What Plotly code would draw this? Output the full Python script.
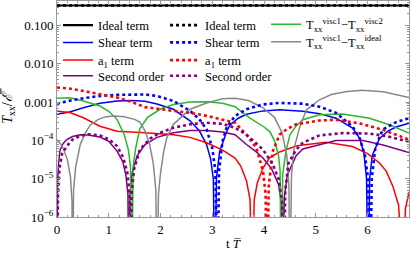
import plotly.graph_objects as go

# ---------------- data ----------------
t_ideal = [0.0, 6.8]
v_ideal = [0.333, 0.333]

t_shear = [0, 0.26, 0.51, 0.83, 1.16, 1.45, 1.70, 1.93, 2.25, 2.57, 2.75, 2.89, 2.97, 3.02, 3.05,
           3.08, 3.14, 3.28, 3.34, 3.5, 3.66, 3.98, 4.30, 4.75, 5.07, 5.39, 5.71, 5.85, 5.93, 5.98,
           6.01, 6.04, 6.09, 6.23, 6.4, 6.55, 6.8]
v_shear = [4.8e-4, 5.6e-4, 7.1e-4, 9.3e-4, 1.07e-3, 1.1e-3, 1.05e-3, 8.9e-4, 6.5e-4, 3.24e-4, 1.78e-4,
           7.8e-5, 3.16e-5, 1.0e-5, 1e-8, 1.0e-5, 5.0e-5, 1.74e-4, 2.5e-4, 3.8e-4, 4.8e-4, 5.9e-4,
           6.3e-4, 5.75e-4, 5.0e-4, 3.8e-4, 2.1e-4, 1.12e-4, 4.5e-5, 1.0e-5, 1e-8, 1.0e-5, 4.0e-5,
           1.12e-4, 1.78e-4, 2.24e-4, 2.8e-4]

t_shear_d = [0, 0.26, 0.51, 0.83, 1.16, 1.45, 1.70, 1.93, 2.25, 2.57, 2.75, 2.89, 3.0, 3.06, 3.10,
             3.13, 3.2, 3.28, 3.44, 3.66, 3.98, 4.30, 4.62, 4.75, 5.07, 5.39, 5.71, 5.85, 5.95, 6.01,
             6.05, 6.08, 6.15, 6.29, 6.55, 6.8]
v_shear_d = [9.1e-4, 1.1e-3, 1.26e-3, 1.45e-3, 1.55e-3, 1.58e-3, 1.58e-3, 1.45e-3, 1.07e-3, 5.9e-4,
             3.55e-4, 1.95e-4, 6.3e-5, 1.58e-5, 1e-8, 1.58e-5, 1.0e-4, 2.24e-4, 4.37e-4, 6.5e-4,
             8.7e-4, 9.5e-4, 9.5e-4, 9.1e-4, 7.6e-4, 5.25e-4, 2.3e-4, 1.12e-4, 4.0e-5, 1.0e-5, 1e-8,
             1.0e-5, 6.3e-5, 1.9e-4, 3.0e-4, 3.8e-4]

t_a1 = [0, 0.26, 0.51, 0.83, 1.16, 1.45, 1.70, 2.25, 2.57, 2.89, 3.2, 3.44, 3.55, 3.66, 3.73, 3.77,
        3.81, 3.87, 3.98, 4.11, 4.30, 4.62, 4.75, 5.2, 5.71, 6.0, 6.23, 6.36, 6.49, 6.6, 6.70, 6.73,
        6.8]
v_a1 = [5.9e-4, 5.25e-4, 3.9e-4, 2.34e-4, 1.74e-4, 1.62e-4, 1.58e-4, 1.41e-4, 1.2e-4, 8.7e-5, 5.6e-5,
        3.47e-5, 2.14e-5, 8.9e-6, 2.8e-6, 1e-8, 2.8e-6, 7.9e-6, 1.9e-5, 3.55e-5, 5.0e-5, 7.1e-5,
        7.6e-5, 8.9e-5, 6.9e-5, 4.5e-5, 2.57e-5, 1.58e-5, 6.3e-6, 2.0e-6, 1e-8, 1.6e-6, 4.5e-6]

t_a1_d = [0, 0.26, 0.51, 0.83, 1.16, 1.45, 1.70, 2.25, 2.57, 2.89, 3.2, 3.44, 3.66, 3.85, 3.98, 4.03,
          4.06, 4.09, 4.17, 4.30, 4.45, 4.62, 4.75, 5.07, 5.39, 5.84, 6.29, 6.8]
v_a1_d = [2.4e-3, 2.24e-3, 1.95e-3, 1.62e-3, 1.32e-3, 1.0e-3, 7.4e-4, 5.9e-4, 5.25e-4, 4.37e-4,
          3.55e-4, 2.9e-4, 1.41e-4, 6.5e-5, 1.58e-5, 4.0e-6, 1e-8, 6.3e-6, 5.25e-5, 1.41e-4, 2.0e-4,
          2.63e-4, 2.8e-4, 3.3e-4, 3.47e-4, 2.8e-4, 1.9e-4, 1.05e-4]

t_second = [0, 0.01, 0.03, 0.06, 0.12, 0.19, 0.3, 0.45, 0.6, 0.83, 1.0, 1.16, 1.27, 1.33, 1.37, 1.39,
            1.41, 1.45, 1.55, 1.70, 1.93, 2.25, 2.57, 2.89, 3.2, 3.44, 3.66, 3.85, 3.98, 4.15, 4.28,
            4.34, 4.36, 4.39, 4.45, 4.62, 4.75, 5.07, 5.39, 5.91, 6.3, 6.8]
v_second = [1e-8, 7.1e-6, 2.5e-5, 5.75e-5, 8.3e-5, 1.05e-4, 1.26e-4, 1.41e-4, 1.38e-4, 1.23e-4,
            9.5e-5, 5.25e-5, 2.8e-5, 1.26e-5, 4.0e-6, 1e-8, 4.0e-6, 1.41e-5, 4.0e-5, 7.8e-5, 1.2e-4,
            1.58e-4, 1.82e-4, 1.82e-4, 1.66e-4, 1.41e-4, 7.8e-5, 5.0e-5, 3.47e-5, 1.78e-5, 7.1e-6,
            2.0e-6, 1e-8, 3.16e-6, 1.26e-5, 4.0e-5, 6.0e-5, 7.9e-5, 1.0e-4, 1.0e-4, 7.6e-5, 4.8e-5]

t_second_d = [0, 0.02, 0.05, 0.1, 0.19, 0.3, 0.45, 0.6, 0.83, 1.0, 1.16, 1.28, 1.36, 1.40, 1.42, 1.44,
              1.49, 1.6, 1.8, 1.99, 2.25, 2.57, 2.89, 3.2, 3.44, 3.66, 3.98, 4.17, 4.28, 4.35, 4.38,
              4.41, 4.47, 4.62, 4.75, 5.07, 5.52, 6.04, 6.4, 6.8]
v_second_d = [1e-8, 4.0e-6, 2.0e-5, 4.5e-5, 7.1e-5, 1.05e-4, 1.32e-4, 1.45e-4, 1.35e-4, 1.07e-4,
              7.1e-5, 3.55e-5, 1.41e-5, 4.0e-6, 1e-8, 4.0e-6, 1.78e-5, 5.75e-5, 1.12e-4, 1.58e-4,
              2.14e-4, 2.63e-4, 2.9e-4, 2.7e-4, 2.14e-4, 1.41e-4, 5.75e-5, 2.34e-5, 1.0e-5, 2.5e-6,
              1e-8, 5.0e-6, 2.5e-5, 5.75e-5, 8.7e-5, 1.35e-4, 1.55e-4, 1.51e-4, 1.26e-4, 9.3e-5]

t_v1v2 = [0, 0.25, 0.51, 0.83, 1.0, 1.16, 1.30, 1.38, 1.42, 1.445, 1.47, 1.52, 1.6, 1.75, 2.0, 2.25,
          2.57, 2.89, 3.2, 3.44, 3.72, 4.0, 4.11, 4.2, 4.28, 4.31, 4.33, 4.36, 4.42, 4.50, 4.62, 4.75,
          5.07, 5.52, 6.04, 6.42, 6.8]
v_v1v2 = [1.26e-3, 1.29e-3, 1.07e-3, 7.9e-4, 5.75e-4, 3.55e-4, 1.41e-4, 5.6e-5, 2.0e-5, 1e-8, 2.0e-5,
          6.3e-5, 2.0e-4, 4.0e-4, 6.6e-4, 8.7e-4, 1.0e-3, 1.02e-3, 9.3e-4, 7.6e-4, 3.9e-4, 2.24e-4,
          1.7e-4, 1.0e-4, 4.0e-5, 1.58e-5, 1e-8, 1.26e-5, 5.0e-5, 1.41e-4, 2.4e-4, 3.47e-4, 4.68e-4,
          4.9e-4, 3.8e-4, 2.57e-4, 1.55e-4]

t_v1id = [0, 0.1, 0.2, 0.26, 0.29, 0.30, 0.32, 0.36, 0.45, 0.55, 0.64, 0.8, 0.95, 1.12, 1.3, 1.5, 1.6,
          1.7, 1.79, 1.86, 1.91, 1.93, 1.96, 2.0, 2.06, 2.12, 2.25, 2.57, 2.89, 3.2, 3.44, 3.7, 3.98,
          4.2, 4.35, 4.44, 4.48, 4.50, 4.53, 4.58, 4.7, 4.82, 5.07, 5.3, 5.6, 5.9, 6.3, 6.8]
v_v1id = [1.05e-4, 7.1e-5, 3.16e-5, 1.12e-5, 2.5e-6, 1e-8, 5.0e-6, 2.0e-5, 7.9e-5, 1.58e-4, 2.5e-4,
          3.55e-4, 4.17e-4, 4.37e-4, 4.17e-4, 3.55e-4, 3.0e-4, 1.78e-4, 7.9e-5, 2.5e-5, 5.0e-6, 1e-8,
          4.0e-6, 1.41e-5, 5.0e-5, 1.17e-4, 2.63e-4, 6.5e-4, 9.5e-4, 1.23e-3, 1.26e-3, 1.1e-3, 7.1e-4,
          4.0e-4, 1.58e-4, 4.0e-5, 6.3e-6, 1e-8, 1.26e-5, 6.3e-5, 2.5e-4, 6.3e-4, 1.15e-3, 1.58e-3,
          1.9e-3, 2.04e-3, 1.86e-3, 1.32e-3]

x_ticks = [0, 1, 2, 3, 4, 5, 6]
y_ticks = [1e-6, 1e-5, 1e-4, 1e-3, 1e-2, 1e-1]
y_ticktext = ["10<sup>−6</sup>", "10<sup>−5</sup>", "10<sup>−4</sup>", "0.001", "0.010", "0.100"]

# ---------------- figure ----------------
BLACK, BLUE, RED, PURPLE = "#000000", "#0000ff", "#ff0000", "#800080"
GREEN, GRAY = "#2db52d", "#888888"
AX = "#999999"
FONT = "Liberation Serif, Times New Roman, serif"

fig = go.Figure()
legends = {}
n_leg = [0]

def add(t, v, name, color, dash, width, lx, ly):
    n_leg[0] += 1
    key = "legend" if n_leg[0] == 1 else "legend%d" % n_leg[0]
    fig.add_trace(go.Scatter(x=t, y=v, mode="lines", name=name, legend=key,
                             line=dict(color=color, dash=dash, width=width)))
    legends[key] = dict(x=lx, y=ly, yanchor="top", xanchor="left", bgcolor="rgba(0,0,0,0)",
                        font=dict(family=FONT, size=12.5, color="black"), itemwidth=30)

# legend column / row positions (paper fractions)
C1, C2, C3 = 0.003, 0.307, 0.594
R1, R2, R3, R4 = 0.956, 0.876, 0.794, 0.7213

add(t_ideal, v_ideal, "Ideal term", BLACK, "solid", 2.2, C1, R1)
add(t_shear, v_shear, "Shear term", BLUE, "solid", 1.5, C1, R2)
add(t_a1, v_a1, "a<sub>1</sub> term", RED, "solid", 1.5, C1, R3)
add(t_second, v_second, "Second order", PURPLE, "solid", 1.5, C1, R4)

add(t_v1v2, v_v1v2, "T<sub>xx</sub><sup>visc1</sup>−T<sub>xx</sub><sup>visc2</sup>", GREEN, "solid", 1.5, C3, 0.9606)
add(t_v1id, v_v1id, "T<sub>xx</sub><sup>visc1</sup>−T<sub>xx</sub><sup>ideal</sup>", GRAY, "solid", 1.5, C3, 0.8787)

add(t_ideal, v_ideal, "Ideal term", BLACK, "dot", 2.6, C2, R1)
add(t_shear_d, v_shear_d, "Shear term", BLUE, "dot", 2.6, C2, R2)
add(t_a1_d, v_a1_d, "a<sub>1</sub> term", RED, "dot", 2.6, C2, R3)
add(t_second_d, v_second_d, "Second order", PURPLE, "dot", 2.6, C2, R4)

fig.update_layout(
    width=411, height=258,
    margin=dict(l=57, r=2, t=1, b=41, autoexpand=False),
    paper_bgcolor="white", plot_bgcolor="white",
    font=dict(family=FONT, size=13, color="black"),
    showlegend=True,
    **legends,
    xaxis=dict(range=[0, 6.8], tickmode="array", tickvals=x_ticks, automargin=False,
               ticks="inside", ticklen=4, tickcolor=AX, tickwidth=1,
               showline=True, linecolor=AX, linewidth=1, mirror="ticks",
               showgrid=False, zeroline=False,
               minor=dict(dtick=0.2, tick0=0, ticks="inside", ticklen=2, tickcolor=AX, showgrid=False),
               title=dict(text="t <i>T\u0305</i>", standoff=3, font=dict(size=13))),
    yaxis=dict(type="log", range=[-6, -0.36], tickmode="array", tickvals=y_ticks,
               ticktext=y_ticktext, automargin=False,
               ticks="inside", ticklen=4, tickcolor=AX, tickwidth=1,
               showline=True, linecolor=AX, linewidth=1, mirror="ticks",
               showgrid=False, zeroline=False,
               minor=dict(dtick="D1", ticks="inside", ticklen=2, tickcolor=AX, showgrid=False),
               title=dict(text="<i>T</i><sub>xx</sub>/<i>ℰ\u0305</i>", standoff=10, font=dict(size=14))),
)

fig.write_html("out.html", config={"displayModeBar": False, "staticPlot": True},
               post_script="document.body.style.margin='0';document.body.style.overflow='hidden';")
